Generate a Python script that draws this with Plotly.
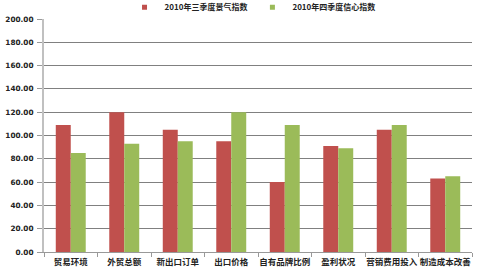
import plotly.graph_objects as go

categories = ["贸易环境", "外贸总额", "新出口订单", "出口价格", "自有品牌比例", "盈利状况", "营销费用投入", "制造成本改善"]
series_names = ["2010年三季度景气指数", "2010年四季度信心指数"]
q3_values = [109, 120, 105, 95, 60, 91, 105, 63]
q4_values = [85, 93, 95, 120, 109, 89, 109, 65]
y_ticks = [0, 20, 40, 60, 80, 100, 120, 140, 160, 180, 200]
colors = ["#C0504D", "#9BBB59"]

font_cjk = "Noto Sans CJK SC"

fig = go.Figure()
for vals, name, col in zip([q3_values, q4_values], series_names, colors):
    fig.add_trace(go.Bar(x=categories, y=vals, name=name, marker_color=col,
                         marker_line_width=0, showlegend=False))
    # legend-only entry with a small square symbol
    fig.add_trace(go.Scatter(x=[None], y=[None], mode="markers", name=name,
                             marker=dict(symbol="square", size=5, color=col), showlegend=True))

fig.update_layout(
    width=481, height=277,
    margin=dict(l=44, r=9, t=19, b=24.5, autoexpand=False),
    paper_bgcolor="white", plot_bgcolor="white",
    barmode="group", bargap=0.44, bargroupgap=0,
    font=dict(family=font_cjk, size=8.5, color="#222"),
    showlegend=True,
    legend=dict(orientation="h", x=0.525, xanchor="center", xref="container",
                y=1.05, yanchor="middle", yref="paper",
                font=dict(family=font_cjk, size=8, color="#222", weight="bold"),
                itemwidth=30, tracegroupgap=0, traceorder="normal", bgcolor="rgba(0,0,0,0)"),
    xaxis=dict(showline=True, linecolor="#999", linewidth=1, ticks="outside", tickson="boundaries",
               ticklen=4, tickcolor="#999", showgrid=False, tickangle=0, automargin=False,
               ticklabelstandoff=2,
               tickfont=dict(family=font_cjk, size=8.5, color="#222", weight="bold")),
    yaxis=dict(range=[0, 200], tickvals=y_ticks, tickformat=".2f", showgrid=True, gridcolor="#808080",
               gridwidth=1, showline=True, linecolor="#c0c0c0", linewidth=2, ticks="outside",
               ticklen=5, tickcolor="#999", zeroline=False, automargin=False,
               ticklabelstandoff=2,
               tickfont=dict(family="DejaVu Sans", size=7.3, color="#222", weight="bold")),
)

fig.write_html("out.html")
